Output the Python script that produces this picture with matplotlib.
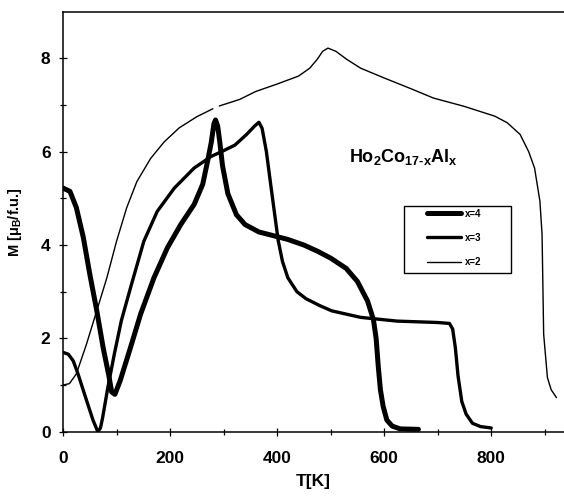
import numpy as np
import matplotlib
matplotlib.use("Agg")
import matplotlib.pyplot as plt
from matplotlib.patches import Rectangle

plt.rcParams['font.family'] = ['Liberation Sans', 'DejaVu Sans']
plt.rcParams['font.weight'] = 'bold'
plt.rcParams['mathtext.fontset'] = 'custom'
plt.rcParams['mathtext.rm'] = 'Liberation Sans:bold'
plt.rcParams['mathtext.bf'] = 'Liberation Sans:bold'
plt.rcParams['mathtext.it'] = 'Liberation Sans:bold'

# x = 2 (thin)
T2 = [0, 12, 25, 44, 63, 82, 100, 119, 138, 164, 189, 217, 250, 280, np.nan,
      292, 330, 360, 400, 440, 461, 475, 485, 495, 510, 530, 556, 600, 650,
      692, 750, 807, 830, 854, 870, 881, 891, 895, 898, 905, 912, 922]
M2 = [1.00, 1.03, 1.24, 1.88, 2.59, 3.30, 4.08, 4.80, 5.36, 5.86, 6.21, 6.51, 6.75, 6.92, np.nan,
      6.98, 7.12, 7.29, 7.45, 7.62, 7.79, 7.98, 8.15, 8.22, 8.15, 7.98, 7.79, 7.58, 7.35,
      7.15, 6.97, 6.76, 6.62, 6.37, 6.00, 5.65, 4.94, 4.23, 2.09, 1.16, 0.90, 0.73]

# x = 3 (medium)
T3 = [0, 10, 19, 28, 44, 56, 65, 70, 74, 84, 96, 109, 128, 151, 176, 208, 245, 277,
      296, 321, 343, 358, 366, 372, 380, 388, 395, 402, 410, 420, 437, 454, 480, 502,
      556, 624, 700, 722, 728, 733, 738, 745, 753, 765, 780, 800]
M3 = [1.70, 1.66, 1.52, 1.24, 0.67, 0.25, 0.00, 0.08, 0.30, 0.96, 1.67, 2.38, 3.16, 4.08,
      4.72, 5.22, 5.65, 5.90, 6.00, 6.14, 6.37, 6.55, 6.63, 6.50, 6.00, 5.30, 4.70, 4.10,
      3.65, 3.30, 3.00, 2.85, 2.70, 2.59, 2.45, 2.37, 2.34, 2.32, 2.20, 1.80, 1.20, 0.65,
      0.38, 0.18, 0.11, 0.08]

# x = 4 (thick)
T4 = [0, 13, 25, 38, 50, 63, 75, 85, 91, 97, 107, 126, 145, 170, 195, 220, 245, 261,
      270, 277, 282, 285, 289, 293, 298, 308, 324, 340, 366, 400, 420, 450, 475, 500,
      529, 550, 569, 580, 585, 589, 593, 598, 605, 615, 630, 664]
M4 = [5.22, 5.15, 4.80, 4.16, 3.38, 2.60, 1.80, 1.24, 0.85, 0.80, 1.10, 1.80, 2.52, 3.30,
      3.94, 4.44, 4.87, 5.30, 5.79, 6.20, 6.60, 6.68, 6.55, 6.20, 5.70, 5.10, 4.65, 4.44,
      4.28, 4.18, 4.12, 4.00, 3.87, 3.72, 3.50, 3.22, 2.80, 2.40, 2.00, 1.40, 0.90, 0.55,
      0.25, 0.12, 0.06, 0.05]

labels = ['x=4', 'x=3', 'x=2']
xticks = [0, 200, 400, 600, 800]
xminor = [100, 300, 500, 700, 900]
yticks = [0, 2, 4, 6, 8]
yminor = [1, 3, 5, 7]

fig = plt.figure(figsize=(5.64, 5.04), dpi=100)
ax = fig.add_axes([63/564, 72.3/504, 1 - 63/564, (431.7 - 11.7)/504])

kw = dict(color='black', solid_capstyle='round', solid_joinstyle='round')
l4, = ax.plot(T4, M4, lw=3.6, label=labels[0], **kw)
l3, = ax.plot(T3, M3, lw=2.4, label=labels[1], **kw)
l2, = ax.plot(T2, M2, lw=1.0, label=labels[2], **kw)

ax.set_xlim(0, 936)
ax.set_ylim(0, 9)
ax.set_xticks(xticks)
ax.set_xticks(xminor, minor=True)
ax.set_yticks(yticks)
ax.set_yticks(yminor, minor=True)
ax.tick_params(which='major', direction='inout', length=6, width=0.9)
ax.tick_params(which='minor', direction='inout', length=4, width=0.9)
ax.tick_params(axis='x', which='major', pad=11, labelsize=12.5)
ax.tick_params(axis='y', which='major', pad=6, labelsize=12.5)
for s in ['left', 'bottom', 'top']:
    ax.spines[s].set_linewidth(1.1)
ax.spines['right'].set_visible(False)

ax.set_xlabel('T[K]', fontsize=12.5, fontweight='bold', labelpad=6)
ax.set_ylabel(r'M [μ$_\mathbf{B}$/f.u.]', fontsize=10.5, fontweight='bold')
ax.yaxis.set_label_coords(-0.078, 0.5)

ax.text(635, 5.89, r'$\mathbf{Ho_2Co_{17\text{-}x}Al_x}$', fontsize=13,
        ha='center', va='center')

# legend frame
ax.add_patch(Rectangle((637, 3.41), 200, 1.42, fill=False, lw=1.0,
                       edgecolor='black', zorder=5))
leg = ax.legend(handles=[l4, l3, l2], loc='upper left',
                bbox_to_anchor=(675/936, 4.83/9), borderaxespad=0,
                frameon=False, fontsize=7, handlelength=3.5,
                handletextpad=0.4, labelspacing=1.45, borderpad=0.25)
for t in leg.get_texts():
    t.set_fontweight('bold')

fig.savefig('out.png', dpi=100, facecolor='white')
